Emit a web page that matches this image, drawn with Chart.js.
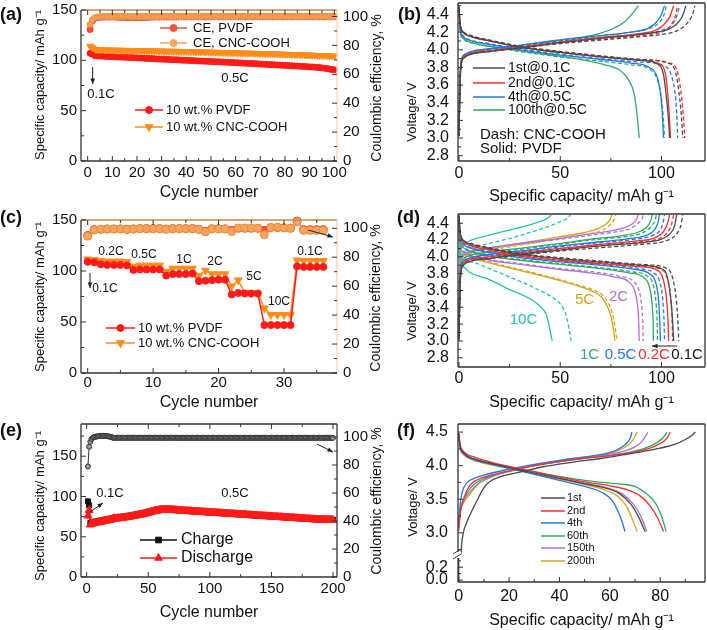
<!DOCTYPE html>
<html>
<head>
<meta charset="utf-8">
<script src="https://cdn.jsdelivr.net/npm/chart.js@4.4.1/dist/chart.umd.min.js"></script>
<style>
  html, body { margin: 0; padding: 0; background: #fff; }
  #wrap { position: relative; width: 707px; height: 630px; overflow: hidden; }
  canvas { position: absolute; }
</style>
</head>
<body>
<div id="wrap">
  <canvas id="chartA" width="400" height="205" style="left:0;top:0"></canvas>
  <canvas id="chartC" width="400" height="215" style="left:0;top:200px"></canvas>
  <canvas id="chartE" width="400" height="225" style="left:0;top:405px"></canvas>
  <canvas id="chartB" width="312" height="210" style="left:395px;top:0"></canvas>
  <canvas id="chartD" width="312" height="215" style="left:395px;top:200px"></canvas>
  <canvas id="chartF" width="312" height="225" style="left:395px;top:405px"></canvas>
</div>
<script>
/* ---------- (a) cycling at 0.5C, 100 cycles ---------- */
var aCycles = Array.from({ length: 100 }, function (_, i) { return i + 1; });
var aCapPVDF = [107, 106, 104.6, 104.3, 104.2, 104.1, 104, 103.9, 103.7, 103.6,
  103.5, 103.4, 103.3, 103.2, 103.1, 103, 102.8, 102.7, 102.6, 102.4,
  102.3, 102.2, 102.1, 101.9, 101.8, 101.7, 101.6, 101.4, 101.3, 101.2,
  101.1, 101, 100.8, 100.7, 100.6, 100.5, 100.4, 100.2, 100.1, 100,
  99.9, 99.8, 99.7, 99.5, 99.4, 99.3, 99.2, 99.1, 99, 98.8,
  98.7, 98.6, 98.5, 98.4, 98.3, 98.1, 98, 97.9, 97.8, 97.6,
  97.5, 97.4, 97.3, 97.1, 97, 96.9, 96.8, 96.6, 96.5, 96.3,
  96.2, 96.1, 95.9, 95.8, 95.7, 95.5, 95.4, 95.3, 95.1, 95,
  94.8, 94.7, 94.6, 94.4, 94.3, 94.1, 94, 93.8, 93.7, 93.5,
  93.4, 93.2, 93, 92.8, 92.5, 92.2, 91.8, 91.4, 91, 90.6];
var aCapCNC = [114, 112.5, 111, 110.6, 110.5, 110.4, 110.3, 110.3, 110.2, 110.2,
  110.1, 110.1, 110, 110, 109.9, 109.9, 109.8, 109.8, 109.7, 109.7,
  109.6, 109.6, 109.5, 109.5, 109.4, 109.4, 109.3, 109.3, 109.2, 109.2,
  109.1, 109.1, 109, 109, 108.9, 108.9, 108.8, 108.8, 108.7, 108.7,
  108.6, 108.6, 108.5, 108.5, 108.4, 108.4, 108.3, 108.3, 108.2, 108.1,
  108, 108, 107.9, 107.9, 107.8, 107.7, 107.7, 107.6, 107.5, 107.5,
  107.4, 107.3, 107.3, 107.2, 107.1, 107.1, 107, 106.9, 106.9, 106.8,
  106.7, 106.6, 106.6, 106.5, 106.4, 106.3, 106.3, 106.2, 106.1, 106,
  105.9, 105.9, 105.8, 105.7, 105.6, 105.5, 105.5, 105.4, 105.3, 105.2,
  105.1, 105, 104.9, 104.8, 104.7, 104.6, 104.5, 104.4, 104.3, 104.2];
var aCePVDF = [91, 97, 98.8, 99.3, 99.5, 99.6, 99.6, 99.7, 99.6, 99.7,
  99.6, 99.5, 99.5, 99.4, 99.4, 99.3, 99.3, 99.4, 99.3, 99.3,
  99.4, 99.3, 99.4, 99.4, 99.5, 99.6, 99.6, 99.7, 99.6, 99.7,
  99.7, 99.6, 99.7, 99.7, 99.6, 99.7, 99.7, 99.8, 99.7, 99.7,
  99.8, 99.7, 99.7, 99.8, 99.7, 99.8, 99.7, 99.7, 99.8, 99.7,
  99.8, 99.8, 99.7, 99.8, 99.7, 99.8, 99.8, 99.7, 99.8, 99.8,
  99.7, 99.8, 99.8, 99.7, 99.8, 99.8, 99.7, 99.8, 99.8, 99.8,
  99.7, 99.8, 99.8, 99.8, 99.7, 99.8, 99.8, 99.8, 99.7, 99.8,
  99.8, 99.8, 99.7, 99.8, 99.8, 99.8, 99.7, 99.8, 99.8, 99.8,
  99.7, 99.8, 99.8, 99.7, 99.8, 99.7, 99.8, 99.7, 99.8, 99.7];
var aCeCNC = [94.5, 97.8, 99.2, 99.6, 99.8, 99.9, 99.9, 100, 99.9, 100,
  100, 99.9, 100, 100, 99.9, 100, 100, 99.9, 100, 100,
  99.9, 100, 100, 99.9, 100, 100, 100, 99.9, 100, 100,
  99.9, 100, 100, 100, 99.9, 100, 100, 99.9, 100, 100,
  100, 99.9, 100, 100, 99.9, 100, 100, 100, 99.9, 100,
  100, 99.9, 100, 100, 100, 99.9, 100, 100, 99.9, 100,
  100, 100, 99.9, 100, 100, 99.9, 100, 100, 100, 99.9,
  100, 100, 99.9, 100, 100, 100, 99.9, 100, 100, 99.9,
  100, 100, 100, 99.9, 100, 100, 99.9, 100, 100, 100,
  99.9, 100, 100, 99.9, 100, 100, 99.9, 100, 99.9, 100];

/* ---------- (c) rate capability ---------- */
var cCycles = Array.from({ length: 37 }, function (_, i) { return i; });
var cCapPVDF = [109, 108.5, 106.5, 106, 106, 106, 105.5, 101, 101.5, 101.5, 101.5, 101.5,
  95.5, 97, 97, 97, 97.5, 90, 90.5, 91, 91.5, 91.5, 77, 78.5, 78, 78, 78,
  47, 47, 47, 47, 47, 104.5, 104, 104, 104, 104];
var cCapCNC = [111.5, 111, 110, 109.5, 109.5, 109.5, 109, 104.5, 105.5, 105.5, 105.5, 105.5,
  99.5, 102.5, 102.5, 102.5, 102.5, 95.5, 100.5, 97, 97, 97, 85, 91, 78.5, 78, 78,
  63.5, 57, 57, 57, 57, 110.5, 110, 110, 110, 110];
var cCePVDF = [95, 99, 99.3, 99.5, 99.5, 99.5, 99.3, 99.5, 99.7, 99.7, 99.7, 99.7,
  99.5, 99.7, 99.7, 99.7, 99.7, 99.3, 98, 99.6, 99.6, 99.6, 98.5, 100, 100, 100, 100,
  98.5, 100.5, 100.5, 100.3, 100, 105, 99, 99, 99, 99];
var cCeCNC = [94.5, 98.8, 99.3, 99.5, 99.5, 99.5, 99, 99.5, 99.7, 99.7, 99.7, 99.7,
  99.3, 99.7, 99.7, 99.7, 99.7, 99.2, 97.5, 99.6, 99.6, 99.6, 97.7, 100.2, 100.2, 100.2, 100,
  95.5, 100.5, 100.7, 100.3, 100, 104.5, 98.5, 98.5, 98.5, 98.5];

/* ---------- (e) 200 cycles ---------- */
var eCycles = Array.from({ length: 200 }, function (_, i) { return i + 1; });
var eCharge = [94, 89, 67, 67.5, 67.8, 68.2, 68.5, 68.8, 69.1, 69.4,
  69.7, 70, 70.3, 70.6, 70.9, 71.2, 71.5, 71.8, 72.1, 72.4,
  72.7, 73.2, 73.1, 73, 73.2, 73.4, 73.6, 73.8, 74, 74.2,
  74.4, 74.6, 74.8, 75, 75.3, 75.6, 75.9, 76.2, 76.5, 76.8,
  77.1, 77.4, 77.7, 78, 78.3, 78.7, 79.1, 79.5, 79.9, 80.3,
  80.7, 81.1, 81.5, 81.9, 82.3, 82.6, 82.9, 83.2, 83.5, 83.7,
  83.9, 84, 84.1, 84.1, 84.1, 84, 83.9, 83.8, 83.7, 83.6,
  83.5, 83.3, 83.2, 83.1, 82.9, 82.8, 82.7, 82.6, 82.5, 82.4,
  82.3, 82.2, 82.1, 82, 81.9, 81.8, 81.7, 81.6, 81.5, 81.4,
  81.3, 81.2, 81.1, 81, 80.9, 80.8, 80.7, 80.6, 80.5, 80.4,
  80.3, 80.2, 80.1, 80, 79.9, 79.8, 79.7, 79.6, 79.5, 79.4,
  79.3, 79.2, 79.1, 79, 78.9, 78.8, 78.7, 78.6, 78.5, 78.4,
  78.3, 78.2, 78.1, 78, 77.9, 77.8, 77.7, 77.6, 77.5, 77.4,
  77.3, 77.2, 77.1, 77, 76.9, 76.8, 76.7, 76.6, 76.5, 76.4,
  76.3, 76.2, 76.1, 76, 75.9, 75.8, 75.7, 75.6, 75.5, 75.4,
  75.3, 75.2, 75.1, 75, 74.9, 74.8, 74.7, 74.6, 74.5, 74.4,
  74.3, 74.2, 74.1, 74, 73.9, 73.8, 73.7, 73.6, 73.5, 73.4,
  73.3, 73.2, 73.1, 73, 72.9, 72.8, 72.7, 72.6, 72.5, 72.4,
  72.3, 72.2, 72.1, 72, 71.9, 71.85, 71.8, 71.75, 71.7, 71.65,
  71.6, 71.55, 71.5, 71.45, 71.4, 71.35, 71.3, 71.25, 71.2, 71.1];
var eDischarge = [76, 83, 65, 66, 66.5, 67, 67.3, 67.6, 67.9, 68.2,
  68.5, 68.8, 69.1, 69.4, 69.7, 70, 70.3, 70.6, 70.9, 71.2,
  72, 72.8, 72.6, 72.5, 72.7, 72.9, 73.1, 73.3, 73.5, 73.7,
  73.9, 74.1, 74.3, 74.5, 74.8, 75.1, 75.4, 75.7, 76, 76.3,
  76.6, 76.9, 77.2, 77.5, 77.8, 78.2, 78.6, 79, 79.4, 79.8,
  80.2, 80.6, 81, 81.4, 81.8, 82.1, 82.4, 82.7, 83, 83.2,
  83.4, 83.5, 83.6, 83.6, 83.6, 83.5, 83.4, 83.3, 83.2, 83.1,
  83, 82.8, 82.7, 82.6, 82.4, 82.3, 82.2, 82.1, 82, 81.9,
  81.8, 81.7, 81.6, 81.5, 81.4, 81.3, 81.2, 81.1, 81, 80.9,
  80.8, 80.7, 80.6, 80.5, 80.4, 80.3, 80.2, 80.1, 80, 79.9,
  79.8, 79.7, 79.6, 79.5, 79.4, 79.3, 79.2, 79.1, 79, 78.9,
  78.8, 78.7, 78.6, 78.5, 78.4, 78.3, 78.2, 78.1, 78, 77.9,
  77.8, 77.7, 77.6, 77.5, 77.4, 77.3, 77.2, 77.1, 77, 76.9,
  76.8, 76.7, 76.6, 76.5, 76.4, 76.3, 76.2, 76.1, 76, 75.9,
  75.8, 75.7, 75.6, 75.5, 75.4, 75.3, 75.2, 75.1, 75, 74.9,
  74.8, 74.7, 74.6, 74.5, 74.4, 74.3, 74.2, 74.1, 74, 73.9,
  73.8, 73.7, 73.6, 73.5, 73.4, 73.3, 73.2, 73.1, 73, 72.9,
  72.8, 72.7, 72.6, 72.5, 72.4, 72.3, 72.2, 72.1, 72, 71.9,
  71.8, 71.7, 71.6, 71.5, 71.4, 71.35, 71.3, 71.25, 71.2, 71.15,
  71.1, 71.05, 71, 70.95, 70.9, 70.85, 70.8, 70.75, 70.7, 70.6];
var eCE = [79, 93, 96.6, 98.6, 99.5, 99.9, 100.2, 100.4, 100.5, 100.6,
  100.7, 100.8, 100.8, 100.9, 100.8, 100.7, 100.6, 100.4, 100.2, 100,
  99.6, 99.4, 99.4, 99.5, 99.4, 99.5, 99.4, 99.5, 99.4, 99.4,
  99.5, 99.4, 99.5, 99.4, 99.4, 99.5, 99.4, 99.5, 99.4, 99.5,
  99.4, 99.5, 99.4, 99.5, 99.4, 99.4, 99.5, 99.4, 99.5, 99.4,
  99.4, 99.5, 99.4, 99.4, 99.5, 99.4, 99.5, 99.4, 99.4, 99.5,
  99.4, 99.4, 99.5, 99.4, 99.4, 99.5, 99.4, 99.4, 99.5, 99.4,
  99.5, 99.4, 99.4, 99.5, 99.4, 99.4, 99.4, 99.5, 99.4, 99.4,
  99.4, 99.5, 99.4, 99.4, 99.4, 99.5, 99.4, 99.4, 99.4, 99.5,
  99.4, 99.4, 99.4, 99.4, 99.5, 99.4, 99.4, 99.4, 99.5, 99.4,
  99.4, 99.4, 99.5, 99.4, 99.4, 99.4, 99.4, 99.5, 99.4, 99.4,
  99.4, 99.5, 99.4, 99.4, 99.4, 99.4, 99.5, 99.4, 99.4, 99.4,
  99.4, 99.5, 99.4, 99.4, 99.4, 99.4, 99.4, 99.5, 99.4, 99.4,
  99.4, 99.4, 99.5, 99.4, 99.4, 99.4, 99.4, 99.4, 99.5, 99.4,
  99.4, 99.4, 99.4, 99.5, 99.4, 99.4, 99.4, 99.4, 99.4, 99.5,
  99.4, 99.4, 99.4, 99.4, 99.5, 99.4, 99.4, 99.4, 99.4, 99.4,
  99.5, 99.4, 99.4, 99.4, 99.4, 99.4, 99.5, 99.4, 99.4, 99.4,
  99.4, 99.4, 99.5, 99.4, 99.4, 99.4, 99.4, 99.5, 99.4, 99.4,
  99.4, 99.4, 99.4, 99.5, 99.4, 99.4, 99.4, 99.4, 99.5, 99.4,
  99.4, 99.4, 99.4, 99.4, 99.5, 99.4, 99.4, 99.4, 99.4, 99.4];

/* ---------- (b) voltage profiles, [capacity, voltage] ---------- */
var b1stChgS = [[0,3.02],[0.4,3.5],[1,3.82],[2.5,3.91],[6,3.95],[15,3.98],[30,4.02],[50,4.08],[70,4.13],[88,4.17],[98,4.2],[105,4.25],[109,4.33],[111,4.42],[112,4.5]];
var b1stDisS = [[0,4.49],[0.5,4.3],[2,4.2],[6,4.15],[15,4.1],[30,4.03],[50,3.97],[70,3.92],[90,3.88],[98,3.84],[101,3.72],[102.5,3.45],[103.5,3.2],[104,3.0]];
var b1stChgD = [[0,3.02],[0.4,3.5],[1,3.82],[2.5,3.91],[6,3.95],[15,3.98],[30,4.02],[50,4.07],[70,4.11],[90,4.15],[102,4.18],[109,4.23],[113,4.31],[115.5,4.41],[116.5,4.5]];
var b1stDisD = [[0,4.49],[0.5,4.3],[2,4.21],[6,4.16],[15,4.11],[30,4.04],[50,3.98],[70,3.93],[90,3.89],[103,3.85],[107,3.74],[109,3.45],[110,3.2],[110.5,3.0]];
var b2ndChgS = [[0,3.03],[0.4,3.55],[1,3.84],[2.5,3.92],[6,3.96],[15,3.99],[30,4.03],[50,4.09],[70,4.14],[88,4.18],[97,4.22],[101,4.28],[104,4.37],[106,4.5]];
var b2ndDisS = [[0,4.48],[0.5,4.3],[2,4.2],[6,4.15],[15,4.1],[30,4.03],[50,3.97],[70,3.92],[90,3.88],[99,3.84],[102,3.72],[103.3,3.45],[104,3.2],[104.5,3.0]];
var b2ndChgD = [[0,3.03],[0.4,3.55],[1,3.84],[2.5,3.92],[6,3.96],[15,3.99],[30,4.02],[50,4.08],[70,4.12],[90,4.16],[100,4.2],[104,4.26],[106.5,4.36],[108,4.5]];
var b2ndDisD = [[0,4.48],[0.5,4.31],[2,4.21],[6,4.16],[15,4.11],[30,4.04],[50,3.98],[70,3.93],[90,3.89],[104,3.85],[108,3.74],[110,3.45],[111,3.2],[111.5,3.0]];
var b4thChgS = [[0,3.05],[0.4,3.6],[1,3.86],[2.5,3.94],[6,3.98],[15,4.01],[30,4.05],[50,4.11],[70,4.16],[85,4.2],[93,4.24],[97,4.3],[100,4.4],[101.5,4.5]];
var b4thDisS = [[0,4.47],[0.5,4.25],[2,4.15],[6,4.1],[15,4.06],[30,4.0],[50,3.94],[70,3.89],[85,3.85],[94,3.8],[98,3.68],[99.8,3.45],[100.6,3.2],[101,3.0]];
var b4thChgD = [[0,3.05],[0.4,3.6],[1,3.86],[2.5,3.94],[6,3.98],[15,4.01],[30,4.04],[50,4.1],[70,4.14],[90,4.18],[100,4.22],[105,4.28],[107.5,4.38],[109,4.5]];
var b4thDisD = [[0,4.47],[0.5,4.26],[2,4.16],[6,4.11],[15,4.07],[30,4.01],[50,3.95],[70,3.9],[90,3.86],[101,3.82],[105,3.7],[107,3.45],[107.7,3.2],[108,3.0]];
var b100ChgS = [[0,3.05],[0.4,3.6],[1,3.86],[2.5,3.94],[6,3.97],[15,4.01],[30,4.05],[45,4.1],[60,4.14],[70,4.19],[77,4.25],[82,4.32],[86,4.42],[88.5,4.5]];
var b100DisS = [[0,4.47],[0.5,4.23],[2,4.13],[6,4.08],[15,4.04],[30,3.99],[45,3.94],[60,3.89],[72,3.83],[80,3.76],[84,3.65],[86.5,3.5],[88,3.25],[89,3.0]];
var b100ChgD = [[0,3.05],[0.4,3.6],[1,3.86],[2.5,3.94],[6,3.97],[15,4.01],[30,4.04],[50,4.1],[70,4.16],[85,4.2],[94,4.24],[98.5,4.3],[101,4.38],[102.5,4.5]];
var b100DisD = [[0,4.47],[0.5,4.23],[2,4.13],[6,4.08],[15,4.04],[30,3.98],[50,3.92],[70,3.87],[85,3.83],[94,3.78],[98,3.66],[100,3.45],[101,3.2],[101.5,3.0]];

/* ---------- (d) rate profiles ---------- */
var d01ChgS = [[0,3.02],[0.4,3.55],[1,3.82],[2.5,3.91],[6,3.95],[15,3.98],[30,4.03],[50,4.08],[70,4.13],[90,4.17],[100,4.21],[104,4.27],[106.5,4.37],[107.5,4.5]];
var d01DisS = [[0,4.49],[0.5,4.3],[2,4.2],[6,4.15],[15,4.1],[30,4.03],[50,3.98],[70,3.94],[90,3.9],[100,3.86],[103,3.75],[104.8,3.45],[105.6,3.2],[106,3.0]];
var d01ChgD = [[0,3.02],[0.4,3.55],[1,3.82],[2.5,3.91],[6,3.95],[15,3.98],[30,4.02],[50,4.07],[70,4.11],[90,4.15],[102,4.19],[107,4.26],[109.5,4.37],[110.5,4.5]];
var d01DisD = [[0,4.49],[0.5,4.31],[2,4.21],[6,4.16],[15,4.11],[30,4.04],[50,3.99],[70,3.95],[90,3.91],[102,3.87],[105.5,3.75],[107.5,3.45],[108.2,3.2],[108.5,3.0]];
var d02ChgS = [[0,3.03],[0.4,3.6],[1,3.84],[2.5,3.93],[6,3.97],[15,4.0],[30,4.05],[50,4.1],[70,4.15],[88,4.19],[97,4.23],[101,4.3],[103,4.4],[104,4.5]];
var d02DisS = [[0,4.48],[0.5,4.27],[2,4.18],[6,4.13],[15,4.08],[30,4.01],[50,3.96],[70,3.92],[90,3.88],[98,3.84],[101,3.72],[102.7,3.45],[103.3,3.2],[103.5,3.0]];
var d02ChgD = [[0,3.03],[0.4,3.6],[1,3.84],[2.5,3.93],[6,3.97],[15,4.0],[30,4.04],[50,4.09],[70,4.14],[90,4.18],[99,4.22],[103,4.29],[105,4.39],[106,4.5]];
var d02DisD = [[0,4.48],[0.5,4.28],[2,4.19],[6,4.14],[15,4.09],[30,4.02],[50,3.97],[70,3.93],[90,3.89],[100,3.85],[103,3.73],[104.8,3.45],[105.3,3.2],[105.5,3.0]];
var d05ChgS = [[0,3.04],[0.4,3.65],[1,3.87],[2.5,3.95],[6,3.99],[15,4.03],[30,4.07],[50,4.13],[70,4.18],[85,4.22],[93,4.26],[96.5,4.32],[98.3,4.41],[99,4.5]];
var d05DisS = [[0,4.47],[0.5,4.24],[2,4.15],[6,4.1],[15,4.05],[30,3.99],[50,3.94],[70,3.9],[87,3.85],[94,3.8],[97.3,3.68],[98.7,3.45],[99.2,3.2],[99.5,3.0]];
var d05ChgD = [[0,3.04],[0.4,3.65],[1,3.87],[2.5,3.95],[6,3.99],[15,4.02],[30,4.06],[50,4.12],[70,4.17],[87,4.21],[95,4.25],[99,4.31],[100.7,4.4],[101.5,4.5]];
var d05DisD = [[0,4.47],[0.5,4.25],[2,4.16],[6,4.11],[15,4.06],[30,4.0],[50,3.95],[70,3.91],[89,3.86],[96,3.81],[99.3,3.69],[100.8,3.45],[101.3,3.2],[101.5,3.0]];
var d1ChgS = [[0,3.05],[0.4,3.7],[1,3.9],[2.5,3.98],[6,4.02],[15,4.06],[30,4.1],[50,4.16],[65,4.21],[80,4.25],[88,4.29],[92.5,4.35],[94.7,4.43],[95.5,4.5]];
var d1DisS = [[0,4.46],[0.5,4.2],[2,4.11],[6,4.06],[15,4.01],[30,3.96],[50,3.91],[70,3.86],[84,3.81],[91,3.76],[94.3,3.62],[95.5,3.4],[95.9,3.2],[96,3.0]];
var d1ChgD = [[0,3.05],[0.4,3.7],[1,3.9],[2.5,3.98],[6,4.02],[15,4.05],[30,4.09],[50,4.15],[65,4.2],[82,4.24],[90,4.28],[94.5,4.35],[96.7,4.43],[97.5,4.5]];
var d1DisD = [[0,4.46],[0.5,4.21],[2,4.12],[6,4.07],[15,4.02],[30,3.97],[50,3.92],[70,3.87],[86,3.82],[93,3.77],[96.3,3.63],[97.5,3.4],[97.9,3.2],[98,3.0]];
var d2ChgS = [[0,3.05],[0.4,3.75],[1,3.95],[2.5,4.03],[6,4.07],[15,4.11],[30,4.16],[50,4.22],[64,4.27],[75,4.31],[82,4.35],[86,4.4],[87.8,4.45],[88.5,4.5]];
var d2DisS = [[0,4.45],[0.5,4.15],[2,4.06],[6,4.01],[15,3.96],[30,3.91],[50,3.85],[65,3.81],[77,3.76],[84,3.7],[87,3.58],[88.3,3.4],[88.8,3.2],[89,3.0]];
var d2ChgD = [[0,3.05],[0.4,3.75],[1,3.95],[2.5,4.02],[6,4.06],[15,4.1],[30,4.15],[50,4.21],[66,4.26],[78,4.3],[85,4.34],[88.5,4.4],[90.3,4.45],[91,4.5]];
var d2DisD = [[0,4.45],[0.5,4.16],[2,4.07],[6,4.02],[15,3.97],[30,3.92],[50,3.86],[67,3.82],[79,3.77],[86,3.71],[89,3.59],[90.3,3.4],[90.8,3.2],[91,3.0]];
var d5ChgS = [[0,3.0],[0.3,3.7],[1,3.97],[3,4.04],[8,4.07],[20,4.12],[35,4.18],[50,4.24],[62,4.29],[68,4.33],[72,4.38],[74.5,4.44],[75.5,4.5]];
var d5DisS = [[0,4.5],[0.3,4.15],[1.5,4.06],[5,4.0],[15,3.93],[30,3.84],[45,3.75],[58,3.66],[66,3.59],[70.5,3.52],[73.5,3.4],[75.5,3.25],[76.5,3.1],[77,3.0]];
var d5ChgD = [[0,3.0],[0.3,3.7],[1,3.95],[3,4.02],[8,4.05],[20,4.1],[35,4.16],[50,4.22],[63,4.27],[70,4.31],[74,4.37],[76.5,4.44],[77.5,4.5]];
var d5DisD = [[0,4.5],[0.3,4.16],[1.5,4.07],[5,4.01],[15,3.94],[30,3.85],[45,3.76],[58,3.67],[67,3.6],[71.5,3.53],[74.5,3.41],[76.5,3.25],[77.5,3.1],[78,3.0]];
var d10ChgS = [[0,3.0],[0.3,3.8],[1,4.08],[3,4.16],[6,4.2],[12,4.24],[20,4.29],[28,4.34],[35,4.38],[41,4.43],[44.5,4.47],[45.5,4.5]];
var d10DisS = [[0,4.5],[0.3,4.0],[1.5,3.9],[5,3.82],[10,3.77],[15,3.73],[25,3.61],[32,3.54],[36.5,3.48],[40.5,3.4],[43,3.32],[44.8,3.15],[46,3.0]];
var d10ChgD = [[0,3.0],[0.3,3.75],[1,4.0],[3,4.07],[8,4.12],[15,4.16],[25,4.22],[35,4.29],[44,4.36],[50,4.42],[53.5,4.46],[55,4.5]];
var d10DisD = [[0,4.5],[0.3,4.1],[1,4.0],[3,3.96],[8,3.93],[15,3.86],[23,3.78],[32,3.69],[40,3.6],[46,3.52],[50,3.44],[52.7,3.32],[54.3,3.15],[55.3,3.0]];

/* ---------- (f) profiles over 200 cycles ---------- */
var f1stChgLow = [[0,-0.03],[0,0.39]];
var f1stChg = [[0.2,2.67],[0.9,2.7],[1.2,2.85],[2,3.03],[3,3.14],[4,3.23],[5,3.31],[6,3.39],[7.5,3.5],[9,3.61],[11,3.72],[13,3.78],[16,3.83],[20,3.87],[26,3.92],[33,3.98],[45,4.05],[57,4.11],[65,4.16],[73,4.21],[80,4.26],[86,4.32],[90,4.39],[92.5,4.45],[94,4.5]];
var f1stDis = [[0,4.48],[0.5,4.3],[2,4.19],[6,4.1],[12,4.04],[20,3.97],[30,3.89],[40,3.81],[50,3.73],[58,3.67],[64,3.58],[68.5,3.42],[71.5,3.23],[74,3.02]];
var f2ndChg = [[0,3.03],[0.5,3.25],[1.5,3.45],[3.4,3.64],[5,3.73],[7.4,3.79],[12,3.85],[20,3.92],[30,4.0],[40,4.06],[50,4.11],[60,4.15],[68,4.19],[74,4.24],[79,4.31],[82.5,4.4],[84,4.5]];
var f2ndDis = [[0,4.48],[0.5,4.32],[2,4.21],[6,4.13],[12,4.06],[20,3.99],[30,3.91],[40,3.83],[50,3.76],[60,3.7],[67,3.64],[72,3.55],[76,3.4],[79,3.22],[81.3,3.02]];
var f4thChg = [[0,3.15],[0.5,3.4],[1.2,3.58],[2.2,3.69],[4,3.77],[6,3.81],[10,3.86],[19,3.94],[30,4.02],[40,4.08],[50,4.13],[57,4.17],[62,4.22],[66,4.31],[68,4.4],[68.8,4.5]];
var f4thDis = [[0,4.48],[0.5,4.3],[2,4.18],[6,4.09],[12,4.03],[20,3.96],[30,3.87],[40,3.78],[50,3.69],[57,3.6],[61,3.48],[63.5,3.3],[65,3.15],[66,3.02]];
var f60thChg = [[0,3.08],[0.5,3.3],[2,3.5],[4,3.63],[6,3.72],[9,3.79],[14,3.86],[22,3.94],[30,4.0],[40,4.06],[50,4.11],[60,4.15],[68,4.2],[74,4.26],[79,4.35],[81.5,4.43],[82.7,4.5]];
var f60thDis = [[0,4.47],[0.5,4.29],[2,4.18],[6,4.1],[12,4.04],[20,3.98],[30,3.91],[40,3.84],[50,3.78],[60,3.74],[66,3.72],[70,3.69],[74,3.6],[78,3.45],[80.5,3.25],[82.4,3.02]];
var f150thChg = [[0,3.1],[0.5,3.32],[2,3.48],[4.5,3.61],[7,3.71],[10,3.78],[15,3.86],[22,3.93],[30,4.0],[40,4.06],[50,4.12],[60,4.17],[66,4.22],[70,4.28],[73,4.37],[75.1,4.5]];
var f150thDis = [[0,4.47],[0.5,4.28],[2,4.17],[6,4.09],[12,4.03],[20,3.97],[30,3.89],[40,3.81],[50,3.74],[59,3.67],[65,3.58],[69.5,3.42],[72.5,3.23],[74.7,3.02]];
var f200thChg = [[0,3.1],[0.5,3.3],[2,3.45],[4.75,3.59],[7,3.7],[10,3.79],[15,3.87],[22,3.94],[30,4.01],[40,4.07],[50,4.12],[58,4.17],[63,4.22],[67,4.3],[69.5,4.4],[70.8,4.5]];
var f200thDis = [[0,4.47],[0.5,4.28],[2,4.16],[6,4.08],[12,4.02],[20,3.96],[30,3.88],[40,3.8],[50,3.72],[58,3.64],[63,3.55],[66.5,3.4],[69,3.2],[70.8,3.02]];

/* ---------- look ---------- */
var FONT = '"Liberation Sans", Arial, Helvetica, sans-serif';
Chart.defaults.font.family = FONT;
Chart.defaults.color = '#111';

var RED = '#ff1a1a', ORANGE = '#ff8c1a', CE_RED = '#f0543c', CE_OR = '#f7a45f';
var GRAY = '#4a4a4a', BRED = '#ff2d2d', BLUE = '#2277ee', GREEN = '#2eaa62', PURPLE = '#b072d8', GOLD = '#d9a21b', TEAL = '#22c6b0';

function pts(xs, ys) { return xs.map(function (x, i) { return { x: x, y: ys[i] }; }); }

function markers(data, color, style, r, axis, extra) {
  return Object.assign({
    data: data, showLine: true, borderColor: color, borderWidth: 1.5,
    pointStyle: style, pointRadius: r, pointBorderWidth: 1,
    pointBackgroundColor: color, pointBorderColor: color, yAxisID: axis, clip: 6
  }, extra || {});
}

function curve(data, color, dashed, axis, straight) {
  return {
    data: data, showLine: true, borderColor: color, borderWidth: 1.3,
    borderDash: dashed ? [4, 2.5] : [], pointRadius: 0, tension: 0,
    cubicInterpolationMode: straight ? 'default' : 'monotone', yAxisID: axis || 'y'
  };
}

function ax(pos, min, max, step, size, pad, fs, extra) {
  var o = {
    type: 'linear', position: pos, min: min, max: max,
    grid: { display: false, drawTicks: false }, border: { display: false },
    ticks: { stepSize: step, includeBounds: false, padding: pad, font: { size: fs }, color: '#111',
             autoSkip: false, maxRotation: 0, minRotation: 0 },
    afterFit: function (s) {
      if (s.isHorizontal()) { s.height = size; }
      else { s.width = size; s.paddingTop = 0; s.paddingBottom = 0; }
    }
  };
  if (extra && extra.cb) o.ticks.callback = extra.cb;
  if (extra && extra.title) o.title = { display: true, text: extra.title, font: { size: 16 }, color: '#111', padding: { top: 0, bottom: extra.tpad } };
  if (extra && extra.stack) { o.stack = extra.stack; o.stackWeight = extra.weight; }
  return o;
}
var volt = function (v) { return v.toFixed(1); };

/* frame, inward ticks, notes, legend keys, arrows */
var decor = {
  id: 'decor',
  afterDatasetsDraw: function (chart, args, o) {
    var ctx = chart.ctx, a = chart.chartArea;
    ctx.save();
    ctx.lineWidth = 1.3;
    function edge(x1, y1, x2, y2, c) { ctx.strokeStyle = c; ctx.beginPath(); ctx.moveTo(x1, y1); ctx.lineTo(x2, y2); ctx.stroke(); }
    edge(a.left, a.top, a.right, a.top, o.topColor || '#333');
    edge(a.right, a.top, a.right, a.bottom, o.rightColor || '#333');
    edge(a.left, a.bottom, a.right, a.bottom, '#333');
    edge(a.left, a.top, a.left, a.bottom, '#333');

    ctx.strokeStyle = '#333'; ctx.lineWidth = 1;
    Object.values(chart.scales).forEach(function (s) {
      var hz = s.isHorizontal();
      var lo = hz ? s.left : s.top, hi = hz ? s.right : s.bottom;
      var pos = s.ticks.map(function (t, i) { return s.getPixelForTick(i); });
      if (pos.length < 2) return;
      var d = pos[1] - pos[0], marks = [];
      pos.forEach(function (p) { marks.push([p, 5]); });
      for (var k = -1; k < pos.length; k++) {
        var m = pos[0] + d * (k + 0.5);
        if (m > Math.min(lo, hi) + 1 && m < Math.max(lo, hi) - 1) marks.push([m, 3]);
      }
      ctx.beginPath();
      marks.forEach(function (mk) {
        var p = mk[0], len = mk[1];
        if (hz) {
          ctx.moveTo(p, a.bottom); ctx.lineTo(p, a.bottom - len);
          if (o.topTicks) { ctx.moveTo(p, a.top); ctx.lineTo(p, a.top + len); }
        } else if (s.position === 'left') {
          ctx.moveTo(a.left, p); ctx.lineTo(a.left + len, p);
        } else {
          ctx.moveTo(a.right, p); ctx.lineTo(a.right - len, p);
        }
      });
      ctx.stroke();
    });

    if (o.brk) {
      var bx = o.brk[0], by = o.brk[1];
      ctx.fillStyle = '#fff'; ctx.fillRect(bx - 3, by - 3, 6, 6);
      ctx.strokeStyle = '#333'; ctx.lineWidth = 1;
      ctx.beginPath();
      ctx.moveTo(bx - 5, by - 1); ctx.lineTo(bx + 3, by - 6);
      ctx.moveTo(bx - 5, by + 4); ctx.lineTo(bx + 3, by - 1);
      ctx.stroke();
    }

    (o.keys || []).forEach(function (k) {
      ctx.save();
      ctx.strokeStyle = k.c; ctx.fillStyle = k.c; ctx.lineWidth = k.w || 1.5;
      ctx.setLineDash(k.dash || []);
      ctx.beginPath(); ctx.moveTo(k.x1, k.y); ctx.lineTo(k.x2, k.y); ctx.stroke();
      ctx.setLineDash([]);
      if (k.pt) {
        ctx.fillStyle = k.fill || k.c; ctx.lineWidth = 1;
        Chart.helpers.drawPoint(ctx, { pointStyle: k.pt, radius: k.r, rotation: k.rot || 0, borderWidth: 1 }, (k.x1 + k.x2) / 2, k.y);
      }
      ctx.restore();
    });

    (o.arrows || []).forEach(function (ar) {
      var x1 = ar[0], y1 = ar[1], x2 = ar[2], y2 = ar[3];
      var ang = Math.atan2(y2 - y1, x2 - x1);
      ctx.strokeStyle = '#222'; ctx.fillStyle = '#222'; ctx.lineWidth = 1;
      ctx.beginPath(); ctx.moveTo(x1, y1); ctx.lineTo(x2, y2); ctx.stroke();
      ctx.beginPath(); ctx.moveTo(x2, y2);
      ctx.lineTo(x2 - 6 * Math.cos(ang - 0.4), y2 - 6 * Math.sin(ang - 0.4));
      ctx.lineTo(x2 - 6 * Math.cos(ang + 0.4), y2 - 6 * Math.sin(ang + 0.4));
      ctx.closePath(); ctx.fill();
    });

    (o.texts || []).forEach(function (t) {
      ctx.save();
      ctx.font = t.f + ' ' + FONT;
      ctx.fillStyle = t.c || '#111';
      ctx.textAlign = t.al || 'left';
      ctx.textBaseline = 'middle';
      ctx.translate(t.x, t.y);
      if (t.r) ctx.rotate(t.r * Math.PI / 180);
      ctx.fillText(t.s, 0, 0);
      ctx.restore();
    });
    ctx.restore();
  }
};

function makeChart(id, datasets, scales, deco, pad) {
  return new Chart(document.getElementById(id), {
    type: 'scatter',
    data: { datasets: datasets },
    options: {
      responsive: false, animation: false, events: [],
      layout: { padding: pad },
      plugins: { legend: { display: false }, tooltip: { enabled: false }, decor: deco },
      scales: scales
    },
    plugins: [decor]
  });
}

var capTitle = 'Specific capacity/ mAh g\u207B\u00B9';

/* (a) */
makeChart('chartA', [
  markers(pts(aCycles, aCeCNC), CE_OR, 'circle', 3, 'y2', { borderWidth: 1, pointBorderColor: '#ee8a3c' }),
  markers(pts(aCycles, aCePVDF), CE_RED, 'circle', 3, 'y2', { borderWidth: 1, pointBorderColor: '#e03a20' }),
  markers(pts(aCycles, aCapCNC), ORANGE, 'triangle', 4, 'y', { pointRotation: 180 }),
  markers(pts(aCycles, aCapPVDF), RED, 'circle', 3, 'y')
], {
  x: ax('bottom', -2.7, 101.1, 10, 44, 3, 15, { title: 'Cycle number', tpad: 2.4 }),
  y: ax('left', 0, 150, 50, 81, 4, 15),
  y2: ax('right', 0, 104.5, 20, 63, 6, 15)
}, {
  topTicks: true, topColor: '#c9864e', rightColor: '#fbd3b0',
  keys: [
    { x1: 160, x2: 187, y: 28, c: CE_RED, pt: 'circle', r: 3.5 },
    { x1: 160, x2: 187, y: 43, c: CE_OR, pt: 'circle', r: 3.5 },
    { x1: 135, x2: 163, y: 110, c: RED, pt: 'circle', r: 3.5 },
    { x1: 135, x2: 163, y: 127, c: ORANGE, pt: 'triangle', r: 4.5, rot: 180 }
  ],
  arrows: [[92.7, 67, 92.7, 84]],
  texts: [
    { s: '(a)', x: 0, y: 15, f: 'bold 18px' },
    { s: capTitle, x: 40, y: 85, f: '13px', al: 'center', r: -90 },
    { s: 'Coulombic efficiency, %', x: 377, y: 88, f: '14px', al: 'center', r: -90 },
    { s: 'CE, PVDF', x: 193, y: 28, f: '13px' },
    { s: 'CE, CNC-COOH', x: 193, y: 43, f: '13px' },
    { s: '10 wt.% PVDF', x: 166, y: 110, f: '13px' },
    { s: '10 wt.% CNC-COOH', x: 166, y: 127, f: '13px' },
    { s: '0.1C', x: 101, y: 94, f: '13px', al: 'center' },
    { s: '0.5C', x: 235, y: 78, f: '13px', al: 'center' }
  ]
}, { top: 10, left: 0, right: 0, bottom: 0 });

/* (c) */
makeChart('chartC', [
  markers(pts(cCycles, cCeCNC), CE_OR, 'circle', 4, 'y2', { borderWidth: 1, pointBorderColor: '#ee8a3c' }),
  markers(pts(cCycles, cCePVDF), CE_RED, 'circle', 4, 'y2', { borderWidth: 1, pointBorderColor: '#e03a20' }),
  markers(pts(cCycles, cCapPVDF), RED, 'circle', 3.5, 'y'),
  markers(pts(cCycles, cCapCNC), ORANGE, 'triangle', 4.5, 'y', { pointRotation: 180 })
], {
  x: ax('bottom', -1.02, 38.1, 10, 42, 0.5, 15, { title: 'Cycle number', tpad: 2.4 }),
  y: ax('left', 0, 150, 50, 81, 4, 15),
  y2: ax('right', 0, 105.7, 20, 63, 6, 15)
}, {
  topTicks: true, topColor: '#c9864e', rightColor: '#fbd3b0',
  keys: [
    { x1: 106, x2: 135, y: 128, c: RED, pt: 'circle', r: 3.5 },
    { x1: 106, x2: 135, y: 143, c: ORANGE, pt: 'triangle', r: 4.5, rot: 180 }
  ],
  arrows: [[90, 73, 90, 88], [308, 30, 333, 37]],
  texts: [
    { s: '(c)', x: 0, y: 18, f: 'bold 18px' },
    { s: capTitle, x: 40, y: 97, f: '13px', al: 'center', r: -90 },
    { s: 'Coulombic efficiency, %', x: 376, y: 98, f: '14px', al: 'center', r: -90 },
    { s: '10 wt.% PVDF', x: 138, y: 128, f: '13px' },
    { s: '10 wt.% CNC-COOH', x: 138, y: 143, f: '13px' },
    { s: '0.2C', x: 111, y: 52, f: '12px', al: 'center' },
    { s: '0.5C', x: 144, y: 55, f: '12px', al: 'center' },
    { s: '1C', x: 184, y: 60, f: '12px', al: 'center' },
    { s: '2C', x: 215, y: 62, f: '12px', al: 'center' },
    { s: '5C', x: 254, y: 77, f: '12px', al: 'center' },
    { s: '10C', x: 279, y: 102, f: '12px', al: 'center' },
    { s: '0.1C', x: 310, y: 52, f: '12px', al: 'center' },
    { s: '0.1C', x: 105, y: 89, f: '12px', al: 'center' }
  ]
}, { top: 20, left: 0, right: 0, bottom: 0 });

/* (e) */
makeChart('chartE', [
  markers(pts(eCycles, eCE), '#333', 'circle', 2.5, 'y2', { borderWidth: 1, pointBackgroundColor: '#9a9a9a', pointBorderColor: '#333' }),
  markers(pts(eCycles, eDischarge), RED, 'triangle', 4.6, 'y'),
  markers(pts(eCycles, eCharge), '#111', 'rect', 3.5, 'y')
], {
  x: ax('bottom', -4.6, 203.2, 50, 53, 2.5, 15, { title: 'Cycle number', tpad: 7.4 }),
  y: ax('left', 0, 190, 50, 81, 4, 15),
  y2: ax('right', 0, 109.3, 20, 63, 6, 15)
}, {
  topTicks: true,
  keys: [
    { x1: 140, x2: 177, y: 135, c: '#111', pt: 'rect', r: 4 },
    { x1: 140, x2: 177, y: 153, c: RED, pt: 'triangle', r: 4.5 }
  ],
  arrows: [[90, 107, 103, 98], [317, 39, 333, 47]],
  texts: [
    { s: '(e)', x: 0, y: 26, f: 'bold 18px' },
    { s: capTitle, x: 40, y: 101, f: '13px', al: 'center', r: -90 },
    { s: 'Coulombic efficiency, %', x: 377, y: 96, f: '14px', al: 'center', r: -90 },
    { s: 'Charge', x: 181, y: 135, f: '16px' },
    { s: 'Discharge', x: 181, y: 153, f: '16px' },
    { s: '0.1C', x: 110, y: 88, f: '13px', al: 'center' },
    { s: '0.5C', x: 235, y: 88, f: '13px', al: 'center' }
  ]
}, { top: 19, left: 0, right: 0, bottom: 0 });

/* (b) */
makeChart('chartB', [
  curve(b1stChgS, GRAY), curve(b1stDisS, GRAY), curve(b1stChgD, GRAY, true), curve(b1stDisD, GRAY, true),
  curve(b2ndChgS, BRED), curve(b2ndDisS, BRED), curve(b2ndChgD, BRED, true), curve(b2ndDisD, BRED, true),
  curve(b4thChgS, BLUE), curve(b4thDisS, BLUE), curve(b4thChgD, BLUE, true), curve(b4thDisD, BLUE, true),
  curve(b100ChgS, GREEN), curve(b100DisS, GREEN), curve(b100ChgD, GREEN, true), curve(b100DisD, GREEN, true)
], {
  x: ax('bottom', -0.5, 121.5, 50, 49, 3, 16, { title: capTitle, tpad: 3.4 }),
  y: ax('left', 2.74, 4.53, 0.2, 63, 9, 16, { cb: volt })
}, {
  keys: [
    { x1: 78, x2: 110, y: 68, c: GRAY },
    { x1: 78, x2: 110, y: 83, c: BRED },
    { x1: 78, x2: 110, y: 97, c: BLUE },
    { x1: 78, x2: 110, y: 110, c: GREEN }
  ],
  texts: [
    { s: '(b)', x: 3, y: 15, f: 'bold 18px' },
    { s: 'Voltage/ V', x: 17.5, y: 112, f: '13px', al: 'center', r: -90 },
    { s: '1st@0.1C', x: 113, y: 68, f: '14px' },
    { s: '2nd@0.1C', x: 113, y: 83, f: '14px' },
    { s: '4th@0.5C', x: 113, y: 97, f: '14px' },
    { s: '100th@0.5C', x: 113, y: 110, f: '14px' },
    { s: 'Dash: CNC-COOH', x: 85, y: 135, f: '15px' },
    { s: 'Solid: PVDF', x: 85, y: 149, f: '15px' }
  ]
}, { top: 3, left: 0, right: 2, bottom: 0 });

/* (d) */
makeChart('chartD', [
  curve(d01ChgS, GRAY), curve(d01DisS, GRAY), curve(d01ChgD, GRAY, true), curve(d01DisD, GRAY, true),
  curve(d02ChgS, BRED), curve(d02DisS, BRED), curve(d02ChgD, BRED, true), curve(d02DisD, BRED, true),
  curve(d05ChgS, BLUE), curve(d05DisS, BLUE), curve(d05ChgD, BLUE, true), curve(d05DisD, BLUE, true),
  curve(d1ChgS, GREEN), curve(d1DisS, GREEN), curve(d1ChgD, GREEN, true), curve(d1DisD, GREEN, true),
  curve(d2ChgS, PURPLE), curve(d2DisS, PURPLE), curve(d2ChgD, PURPLE, true), curve(d2DisD, PURPLE, true),
  curve(d5ChgS, GOLD), curve(d5DisS, GOLD), curve(d5ChgD, GOLD, true), curve(d5DisD, GOLD, true),
  curve(d10ChgS, TEAL), curve(d10DisS, TEAL), curve(d10ChgD, TEAL, true), curve(d10DisD, TEAL, true)
], {
  x: ax('bottom', -0.5, 121.5, 50, 48, 1.5, 16, { title: capTitle, tpad: 2.4 }),
  y: ax('left', 2.69, 4.51, 0.2, 63, 9, 16, { cb: volt })
}, {
  arrows: [[282, 146, 257, 146]],
  texts: [
    { s: '(d)', x: 2, y: 18, f: 'bold 18px' },
    { s: 'Voltage/ V', x: 17.5, y: 111, f: '13px', al: 'center', r: -90 },
    { s: '10C', x: 128.5, y: 120, f: '15px', al: 'center', c: TEAL },
    { s: '5C', x: 189.5, y: 100, f: '15px', al: 'center', c: GOLD },
    { s: '2C', x: 223.5, y: 97, f: '15px', al: 'center', c: PURPLE },
    { s: '1C', x: 194.5, y: 155, f: '15px', al: 'center', c: GREEN },
    { s: '0.5C', x: 225.5, y: 155, f: '15px', al: 'center', c: BLUE },
    { s: '0.2C', x: 259, y: 155, f: '15px', al: 'center', c: BRED },
    { s: '0.1C', x: 292, y: 155, f: '15px', al: 'center', c: '#111' }
  ]
}, { top: 14, left: 0, right: 2, bottom: 0 });

/* (f): left boxes are laid out in reverse, so the low segment is listed first */
makeChart('chartF', [
  curve(f1stChgLow, GRAY, false, 'yLow', true),
  curve(f1stChg, GRAY), curve(f1stDis, GRAY),
  curve(f2ndChg, BRED), curve(f2ndDis, BRED),
  curve(f4thChg, BLUE), curve(f4thDis, BLUE),
  curve(f60thChg, GREEN), curve(f60thDis, GREEN),
  curve(f150thChg, PURPLE), curve(f150thDis, PURPLE),
  curve(f200thChg, GOLD), curve(f200thDis, GOLD)
], {
  x: ax('bottom', -0.3, 97.8, 20, 48, 4.5, 16, { title: capTitle, tpad: 0 }),
  yLow: ax('left', -0.03, 0.39, 0.2, 63, 10, 16, { cb: volt, stack: 'v', weight: 27 }),
  y: ax('left', 2.67, 4.62, 0.5, 63, 10, 16, { cb: volt, stack: 'v', weight: 131 })
}, {
  brk: [63, 150],
  keys: [
    { x1: 146, x2: 170, y: 93, c: GRAY },
    { x1: 146, x2: 170, y: 106, c: BRED },
    { x1: 146, x2: 170, y: 118, c: BLUE },
    { x1: 146, x2: 170, y: 131, c: GREEN },
    { x1: 146, x2: 170, y: 143, c: PURPLE },
    { x1: 146, x2: 170, y: 156, c: GOLD }
  ],
  texts: [
    { s: '(f)', x: 2, y: 26, f: 'bold 18px' },
    { s: 'Voltage/ V', x: 18, y: 102, f: '13px', al: 'center', r: -90 },
    { s: '1st', x: 172, y: 93, f: '11px' },
    { s: '2nd', x: 172, y: 106, f: '11px' },
    { s: '4th', x: 172, y: 118, f: '11px' },
    { s: '60th', x: 172, y: 131, f: '11px' },
    { s: '150th', x: 172, y: 143, f: '11px' },
    { s: '200th', x: 172, y: 156, f: '11px' }
  ]
}, { top: 19, left: 0, right: 2, bottom: 0 });
</script>
</body>
</html>
